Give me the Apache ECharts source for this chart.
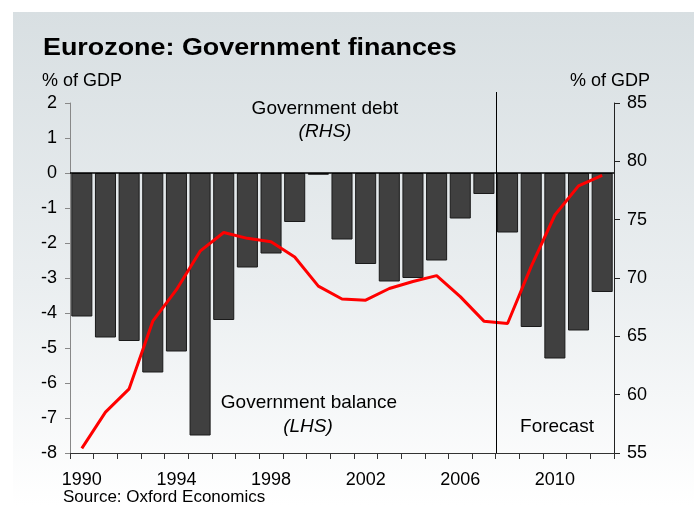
<!DOCTYPE html>
<html>
<head>
<meta charset="utf-8">
<script src="https://cdn.jsdelivr.net/npm/echarts@6/dist/echarts.min.js"></script>
<style>
  html, body { margin: 0; padding: 0; background: #ffffff; }
  #chart { width: 696px; height: 505px; }
</style>
</head>
<body>
<div id="chart"></div>
<script>
// Eurozone government finances, 1990-2012 (2008 onwards forecast)
const years = ['1990','1991','1992','1993','1994','1995','1996','1997','1998','1999','2000','2001',
               '2002','2003','2004','2005','2006','2007','2008','2009','2010','2011','2012'];
// Government balance, % of GDP (left axis)
const balance = [-4.1,-4.7,-4.8,-5.7,-5.1,-7.5,-4.2,-2.7,-2.3,-1.4,-0.05,-1.9,
                 -2.6,-3.1,-3.0,-2.5,-1.3,-0.6,-1.7,-4.4,-5.3,-4.5,-3.4];
// Government debt, % of GDP (right axis)
const debt = [55.4,58.5,60.5,66.3,69.0,72.3,73.9,73.4,73.1,71.8,69.3,68.2,
              68.1,69.1,69.7,70.2,68.4,66.3,66.1,71.0,75.4,77.9,78.8];
const firstForecastYear = '2008';

const FONT = '"Liberation Sans", Arial, sans-serif';
const chart = echarts.init(document.getElementById('chart'), null, { renderer: 'canvas' });

const option = {
  animation: false,
  backgroundColor: '#ffffff',
  grid: { left: 70, right: 82, top: 103, bottom: 52 },
  xAxis: {
    type: 'category',
    data: years,
    axisLine: { onZero: false, lineStyle: { color: '#333333', width: 1 } },
    axisTick: { show: true, interval: 0, length: 6, lineStyle: { color: '#333333' } },
    axisLabel: { interval: 3, margin: 18, color: '#000000', fontSize: 18, fontFamily: FONT },
    splitLine: { show: false }
  },
  yAxis: [
    {
      type: 'value', min: -8, max: 2, interval: 1,
      axisLine: { show: true, lineStyle: { color: '#888888' } },
      axisTick: { show: true, length: 5, lineStyle: { color: '#888888' } },
      axisLabel: { margin: 13, color: '#000000', fontSize: 18, fontFamily: FONT },
      splitLine: { show: false }
    },
    {
      type: 'value', min: 55, max: 85, interval: 5, position: 'right',
      axisLine: { show: true, lineStyle: { color: '#222222' } },
      axisTick: { show: true, length: 6, lineStyle: { color: '#222222' } },
      axisLabel: { margin: 13, color: '#000000', fontSize: 18, fontFamily: FONT },
      splitLine: { show: false }
    }
  ],
  series: [
    {
      name: 'Government balance',
      type: 'bar',
      yAxisIndex: 0,
      data: balance,
      barCategoryGap: '11%',
      itemStyle: { color: '#404040', borderColor: '#1a1a1a', borderWidth: 1 },
      markLine: {
        silent: true, symbol: 'none', label: { show: false },
        lineStyle: { color: '#000000', width: 1.5, type: 'solid' },
        data: [{ yAxis: 0 }]
      },
      z: 2
    },
    {
      name: 'Government debt',
      type: 'line',
      yAxisIndex: 1,
      data: debt,
      symbol: 'none',
      lineStyle: { color: '#ff0000', width: 3 },
      z: 3
    }
  ]
};
chart.setOption(option);

// Forecast divider sits on the boundary between the last outturn and first forecast year
const fIdx = years.indexOf(firstForecastYear);
const xa = chart.convertToPixel({ xAxisIndex: 0 }, years[fIdx - 1]);
const xb = chart.convertToPixel({ xAxisIndex: 0 }, years[fIdx]);
const xDiv = Math.round((xa + xb) / 2) + 0.5;
const yBottom = chart.convertToPixel({ yAxisIndex: 0 }, -8);

const txt = (text, x, y, extra) => Object.assign({
  type: 'text', x: x, y: y, silent: true,
  style: Object.assign({ text: text, fill: '#000000', font: '18px ' + FONT,
                         textAlign: 'center', textVerticalAlign: 'middle' }, extra && extra.style)
}, extra && extra.el);

chart.setOption({
  graphic: [
    {
      type: 'rect', z: -10, silent: true,
      shape: { x: 13, y: 12, width: 681, height: 493 },
      style: {
        fill: new echarts.graphic.LinearGradient(0, 0, 0, 1, [
          { offset: 0, color: '#d8dfe2' },
          { offset: 0.55, color: '#eaeef0' },
          { offset: 1, color: '#ffffff' }
        ])
      }
    },
    {
      type: 'line', silent: true, z: 5,
      shape: { x1: xDiv, y1: 92, x2: xDiv, y2: yBottom },
      style: { stroke: '#000000', lineWidth: 1 }
    },
    {
      type: 'text', silent: true, x: 43, y: 48, scaleX: 1.12,
      style: { text: 'Eurozone: Government finances', fill: '#000000',
               font: 'bold 24px ' + FONT, textAlign: 'left', textVerticalAlign: 'middle' }
    },
    txt('% of GDP', 42, 81, { style: { textAlign: 'left' } }),
    txt('% of GDP', 650, 81, { style: { textAlign: 'right' } }),
    txt('Government debt', 325, 109, { style: { font: '19px ' + FONT } }),
    txt('(RHS)', 325, 132, { style: { font: 'italic 19px ' + FONT } }),
    txt('Government balance', 309, 403, { style: { font: '19px ' + FONT } }),
    txt('(LHS)', 308, 427, { style: { font: 'italic 19px ' + FONT } }),
    txt('Forecast', 557, 427, { style: { font: '19px ' + FONT } }),
    txt('Source: Oxford Economics', 63, 497, { style: { font: '17px ' + FONT, textAlign: 'left' } })
  ]
});
</script>
</body>
</html>
